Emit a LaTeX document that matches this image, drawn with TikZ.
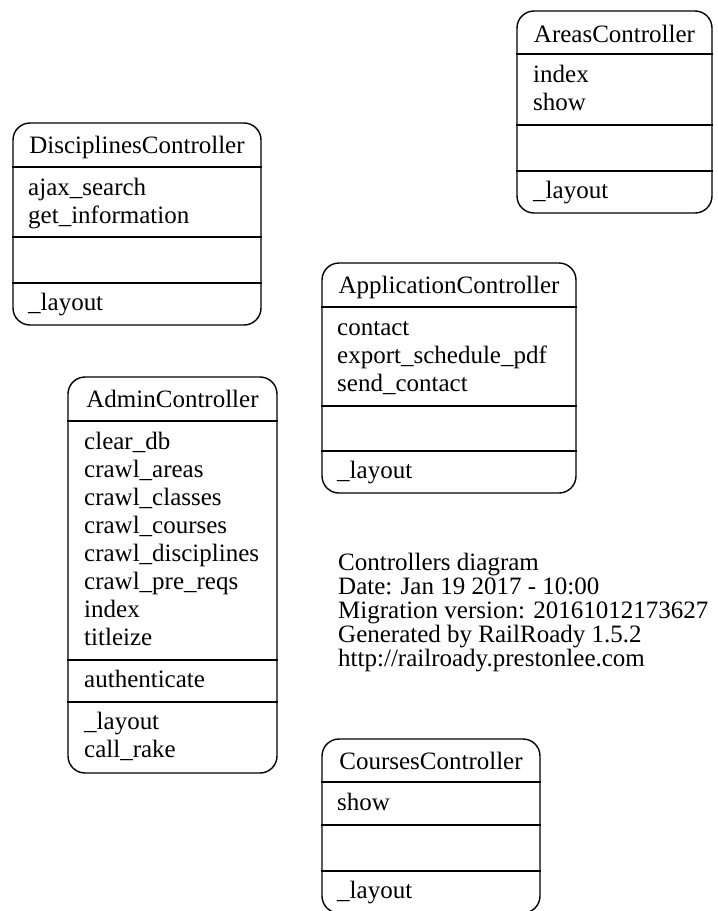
\documentclass[tikz,border=0pt]{standalone}
\usepackage{fontspec}
\setmainfont{Liberation Serif}
\begin{document}
\begin{tikzpicture}[x=1pt,y=-1pt,
  cls/.style={draw, line width=1.4pt, rounded corners=17pt, inner sep=0pt},
  sep/.style={line width=1.4pt},
  hdr/.style={anchor=base, inner sep=0pt, font=\fontsize{25}{28}\selectfont},
  txt/.style={anchor=base west, inner sep=0pt, font=\fontsize{25}{28}\selectfont}]
\useasboundingbox (0,0) rectangle (718,911);
\clip (0,0) rectangle (718,911);

% AreasController
\node[cls, minimum width=195pt, minimum height=202pt] (areas) at (614.5,112) {};
\draw[sep] (areas.west |- 0,54) -- (areas.east |- 0,54);
\draw[sep] (areas.west |- 0,125) -- (areas.east |- 0,125);
\draw[sep] (areas.west |- 0,171) -- (areas.east |- 0,171);
\node[hdr] (areasT) at (614.5,42) {AreasController};
\node[txt] (areasM1) at (533,82) {index};
\node[txt] (areasM2) at (533,110) {show};
\node[txt] (areasP1) at (533,198) {\_layout};

% DisciplinesController
\node[cls, minimum width=248pt, minimum height=202pt] (disc) at (137,224) {};
\draw[sep] (disc.west |- 0,167) -- (disc.east |- 0,167);
\draw[sep] (disc.west |- 0,237) -- (disc.east |- 0,237);
\draw[sep] (disc.west |- 0,283) -- (disc.east |- 0,283);
\node[hdr] (discT) at (137,153) {DisciplinesController};
\node[txt] (discM1) at (28,195) {ajax\_search};
\node[txt] (discM2) at (28,223) {get\_information};
\node[txt] (discP1) at (28,310) {\_layout};

% ApplicationController
\node[cls, minimum width=254pt, minimum height=230pt] (app) at (449,378) {};
\draw[sep] (app.west |- 0,307) -- (app.east |- 0,307);
\draw[sep] (app.west |- 0,406) -- (app.east |- 0,406);
\draw[sep] (app.west |- 0,451) -- (app.east |- 0,451);
\node[hdr] (appT) at (449,293) {ApplicationController};
\node[txt] (appM1) at (337,335) {contact};
\node[txt] (appM2) at (337,363) {export\_schedule\_pdf};
\node[txt] (appM3) at (337,391) {send\_contact};
\node[txt] (appP1) at (337,478) {\_layout};

% AdminController
\node[cls, minimum width=209pt, minimum height=396pt] (admin) at (172.5,575) {};
\draw[sep] (admin.west |- 0,421) -- (admin.east |- 0,421);
\draw[sep] (admin.west |- 0,660) -- (admin.east |- 0,660);
\draw[sep] (admin.west |- 0,702) -- (admin.east |- 0,702);
\node[hdr] (adminT) at (172.5,407) {AdminController};
\node[txt] (adminM1) at (84,449) {clear\_db};
\node[txt] (adminM2) at (84,477) {crawl\_areas};
\node[txt] (adminM3) at (84,505) {crawl\_classes};
\node[txt] (adminM4) at (84,533) {crawl\_courses};
\node[txt] (adminM5) at (84,561) {crawl\_disciplines};
\node[txt] (adminM6) at (84,589) {crawl\_pre\_reqs};
\node[txt] (adminM7) at (84,617) {index};
\node[txt] (adminM8) at (84,645) {titleize};
\node[txt] (adminR1) at (84,687) {authenticate};
\node[txt] (adminP1) at (84,729) {\_layout};
\node[txt] (adminP2) at (84,757) {call\_rake};

% Info
\node[txt] (info1) at (338,570) {Controllers diagram};
\node[txt] (info2) at (338,594) {Date: Jan 19 2017 - 10:00};
\node[txt] (info3) at (338,618) {Migration version: 20161012173627};
\node[txt] (info4) at (338,642) {Generated by RailRoady 1.5.2};
\node[txt] (info5) at (338,666) {http://railroady.prestonlee.com};

% CoursesController
\node[cls, minimum width=218pt, minimum height=174pt] (courses) at (431,826) {};
\draw[sep] (courses.west |- 0,782) -- (courses.east |- 0,782);
\draw[sep] (courses.west |- 0,825) -- (courses.east |- 0,825);
\draw[sep] (courses.west |- 0,871) -- (courses.east |- 0,871);
\node[hdr] (coursesT) at (431,769) {CoursesController};
\node[txt] (coursesM1) at (337,810) {show};
\node[txt] (coursesP1) at (337,898) {\_layout};
\end{tikzpicture}
\end{document}
